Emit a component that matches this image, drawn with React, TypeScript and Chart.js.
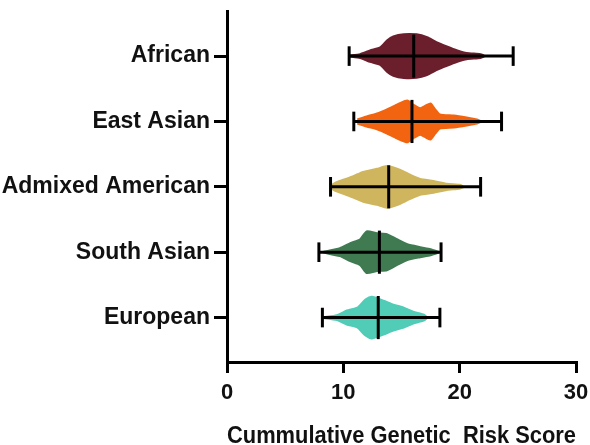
import React, { useEffect, useRef } from "react";
import { Chart, registerables } from "chart.js";

Chart.register(...registerables);

// Categories listed top to bottom
const CATEGORIES = ["African", "East Asian", "Admixed American", "South Asian", "European"];
const COLORS = ["#6b1f2c", "#f2640f", "#cfb65e", "#3f7a51", "#50ccb7"];

// Range (whiskers) and median per category
const MINS = [10.5, 10.9, 8.9, 7.9, 8.2];
const MEDIANS = [16.05, 15.9, 13.9, 13.1, 13.0];
const MAXS = [24.6, 23.6, 21.8, 18.4, 18.3];

// Swarm density profiles (score value, relative density 0..1)
const AFRICAN_X = [10.5, 11.45, 12.3, 13.2, 13.75, 14.3, 15.2, 16.3, 17.2, 18.0, 18.9, 19.8, 20.6, 21.8, 22.1];
const AFRICAN_D = [0.02, 0.09, 0.26, 0.41, 0.71, 0.9, 1.0, 0.99, 0.86, 0.64, 0.44, 0.26, 0.14, 0.09, 0.02];
const EAST_ASIAN_X = [11.2, 12.0, 12.9, 13.75, 14.6, 15.5, 16.0, 16.6, 17.1, 17.5, 17.9, 18.3, 19.5, 20.6, 21.5, 21.8];
const EAST_ASIAN_D = [0.09, 0.23, 0.36, 0.55, 0.77, 0.95, 0.77, 0.6, 0.73, 0.82, 0.55, 0.32, 0.27, 0.18, 0.09, 0.02];
const ADMIXED_X = [8.9, 9.3, 10.0, 10.9, 11.7, 12.9, 13.75, 14.9, 15.75, 16.6, 17.75, 18.9, 20.0, 20.3];
const ADMIXED_D = [0.05, 0.18, 0.32, 0.5, 0.68, 0.82, 0.95, 0.77, 0.55, 0.36, 0.27, 0.14, 0.09, 0.02];
const SOUTH_ASIAN_X = [8.3, 9.7, 10.6, 11.45, 12.0, 12.9, 13.75, 14.6, 15.5, 16.6, 17.5, 18.2];
const SOUTH_ASIAN_D = [0.02, 0.18, 0.41, 0.59, 0.95, 0.86, 0.82, 0.59, 0.36, 0.23, 0.14, 0.02];
const EUROPEAN_X = [8.3, 9.45, 10.3, 11.2, 11.9, 12.45, 13.45, 14.3, 15.2, 16.0, 16.9, 17.2];
const EUROPEAN_D = [0.02, 0.11, 0.32, 0.45, 0.82, 0.95, 0.77, 0.59, 0.45, 0.27, 0.14, 0.02];

const PROFILE_X = [AFRICAN_X, EAST_ASIAN_X, ADMIXED_X, SOUTH_ASIAN_X, EUROPEAN_X];
const PROFILE_D = [AFRICAN_D, EAST_ASIAN_D, ADMIXED_D, SOUTH_ASIAN_D, EUROPEAN_D];

const X_TICKS = [0, 10, 20, 30];
const X_TITLE = "Cummulative Genetic  Risk Score";

const SWARM_HALF = 0.336;
const CAP_HALF = 0.15;
const MEDIAN_HALF = 0.33;
const FONT = "'Liberation Sans', Arial, Helvetica, sans-serif";

export default function App() {
  const ref = useRef<HTMLCanvasElement | null>(null);

  useEffect(() => {
    if (!ref.current) return;
    const n = CATEGORIES.length;
    const pos = (i: number) => n - 1 - i;
    const datasets: any[] = [];
    CATEGORIES.forEach((cat, i) => {
      const c = pos(i);
      const black = {
        type: "line",
        borderColor: "#000",
        borderWidth: 3,
        pointRadius: 0,
        fill: false,
        tension: 0,
        borderCapStyle: "butt",
        order: 0,
      };
      datasets.push({ ...black, label: cat + " range", data: [{ x: MINS[i], y: c }, { x: MAXS[i], y: c }] });
      datasets.push({ ...black, label: cat + " min", data: [{ x: MINS[i], y: c - CAP_HALF }, { x: MINS[i], y: c + CAP_HALF }] });
      datasets.push({ ...black, label: cat + " max", data: [{ x: MAXS[i], y: c - CAP_HALF }, { x: MAXS[i], y: c + CAP_HALF }] });
      datasets.push({ ...black, label: cat + " median", data: [{ x: MEDIANS[i], y: c - MEDIAN_HALF }, { x: MEDIANS[i], y: c + MEDIAN_HALF }] });
    });
    CATEGORIES.forEach((cat, i) => {
      const c = pos(i);
      const xs = PROFILE_X[i];
      const ds = PROFILE_D[i];
      datasets.push({
        type: "line",
        label: cat + " upper",
        data: xs.map((x, k) => ({ x, y: c + ds[k] * SWARM_HALF })),
        borderColor: COLORS[i],
        backgroundColor: COLORS[i],
        borderWidth: 2,
        pointRadius: 0,
        tension: 0.2,
        fill: "+1",
        order: 1,
      });
      datasets.push({
        type: "line",
        label: cat + " lower",
        data: xs.map((x, k) => ({ x, y: c - ds[k] * SWARM_HALF })),
        borderColor: COLORS[i],
        backgroundColor: COLORS[i],
        borderWidth: 2,
        pointRadius: 0,
        tension: 0.2,
        fill: false,
        order: 1,
      });
    });

    const chart = new Chart(ref.current, {
      type: "line",
      data: { datasets },
      options: {
        animation: false,
        responsive: true,
        maintainAspectRatio: false,
        layout: { padding: { top: 11, right: 14, left: 0, bottom: 0 } },
        plugins: { legend: { display: false }, tooltip: { enabled: false } },
        scales: {
          x: {
            type: "linear",
            min: 0,
            max: 30,
            afterBuildTicks: (scale: any) => {
              scale.ticks = X_TICKS.map((v) => ({ value: v }));
            },
            afterFit: (scale: any) => {
              scale.height = 83;
              scale.paddingLeft = 0;
              scale.paddingRight = 0;
            },
            border: { display: true, color: "#000", width: 3 },
            grid: { drawOnChartArea: false, drawTicks: true, tickLength: 11, color: "#000", lineWidth: 3 },
            ticks: { color: "#111", padding: 7, font: { family: FONT, size: 22, weight: "bold" } },
            title: {
              display: true,
              text: X_TITLE,
              color: "#111",
              font: { family: FONT, size: 23, weight: "bold", lineHeight: 1 },
              padding: { top: 0, bottom: -3 },
            },
          },
          y: {
            type: "linear",
            min: -0.68,
            max: 4.69,
            afterBuildTicks: (scale: any) => {
              scale.ticks = CATEGORIES.map((_, i) => ({ value: pos(i) }));
            },
            afterFit: (scale: any) => {
              scale.width = 227;
              scale.paddingTop = 0;
              scale.paddingBottom = 0;
            },
            border: { display: true, color: "#000", width: 3 },
            grid: { drawOnChartArea: false, drawTicks: true, tickLength: 13, color: "#000", lineWidth: 3 },
            ticks: {
              color: "#111",
              padding: 4,
              font: { family: FONT, size: 23, weight: "bold" },
              callback: (v: any) => CATEGORIES[n - 1 - Math.round(Number(v))] ?? "",
            },
          },
        },
      } as any,
    });
    return () => chart.destroy();
  }, []);

  return (
    <div style={{ position: "fixed", left: 0, top: 0, width: 590, height: 445, background: "#fff" }}>
      <canvas ref={ref} />
    </div>
  );
}
